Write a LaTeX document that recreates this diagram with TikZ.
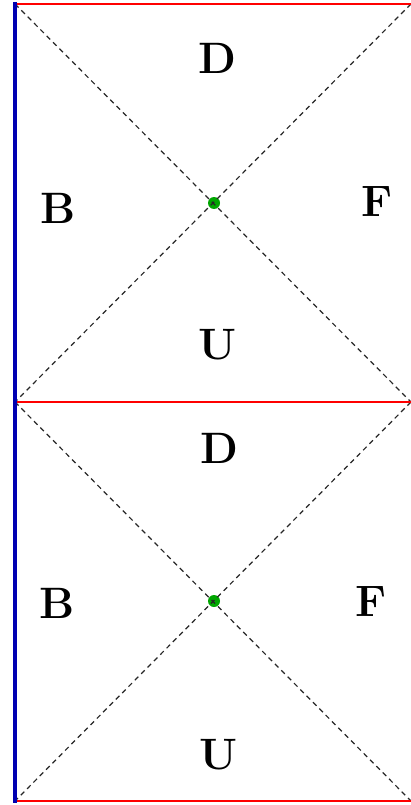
\documentclass[tikz,border=0pt]{standalone}
\usepackage{fontspec}
\setmainfont{Latin Modern Roman}
\begin{document}
\begin{tikzpicture}[x=1pt,y=-1pt,
  edge/.style={red,line width=1.6pt},
  wall/.style={blue!70!black,line width=3.2pt},
  diag/.style={black!85,line width=1.2pt,dash pattern=on 5pt off 4pt},
  lbl/.style={font=\fontsize{44}{50}\selectfont\bfseries,inner sep=0pt},
  dot/.style={circle,fill=green!65!black,minimum size=12pt,inner sep=0pt}]
\useasboundingbox (0,0) rectangle (411,805);
\coordinate (tl) at (15,4);
\coordinate (tr) at (411,4);
\coordinate (ml) at (15,402);
\coordinate (mr) at (411,402);
\coordinate (bl) at (15,801);
\coordinate (br) at (411,801);
\node[dot] (c1) at (214,203) {};
\node[dot] (c2) at (214,601) {};
\draw[diag] (tl) -- (mr);
\draw[diag] (tr) -- (ml);
\draw[diag] (ml) -- (br);
\draw[diag] (mr) -- (bl);
\draw[edge] (tl) -- (tr);
\draw[edge] (ml) -- (mr);
\draw[edge] (bl) -- (br);
\draw[wall] (15,2) -- (15,803);
\node[lbl] (d1) at (217,58) {D};
\node[lbl] (b1) at (58,208) {B};
\node[lbl] (f1) at (377,202) {F};
\node[lbl] (u1) at (218,345) {U};
\node[lbl] (d2) at (219,448) {D};
\node[lbl] (b2) at (57,603) {B};
\node[lbl] (f2) at (371,602) {F};
\node[lbl] (u2) at (219,755) {U};
\end{tikzpicture}
\end{document}
